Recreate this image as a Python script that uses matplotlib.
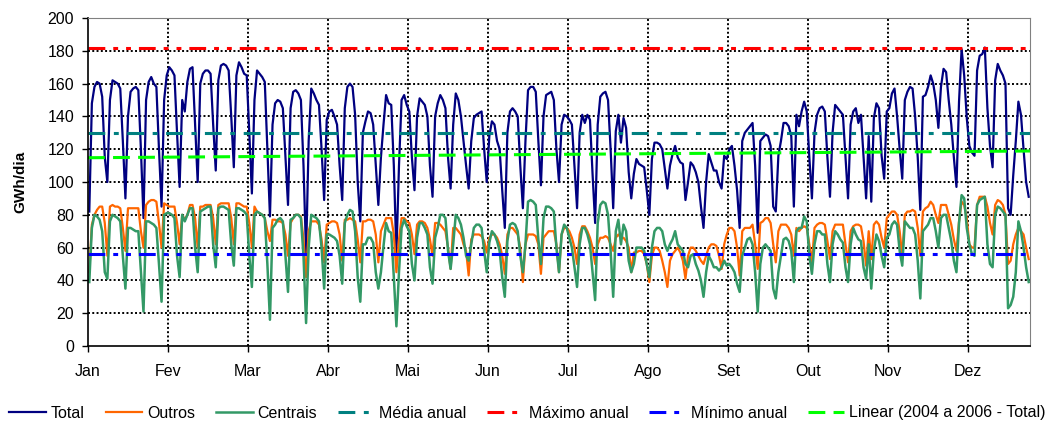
import matplotlib.pyplot as plt

# valores diarios (GWh/dia), 1 Jan .. 31 Dez; cada linha = uma semana (Seg..Dom)
total = [82,
    148, 158, 161, 160, 152, 115, 100,
    150, 162, 161, 160, 157, 125, 90,
    140, 155, 157, 158, 156, 120, 78,
    150, 161, 164, 160, 158, 120, 85,
    150, 165, 170, 168, 165, 130, 97,
    150, 143, 161, 169, 170, 135, 100,
    160, 166, 168, 168, 166, 135, 107,
    162, 171, 172, 171, 168, 140, 109,
    165, 173, 170, 166, 165, 130, 93,
    150, 168, 166, 164, 161, 120, 79,
    135, 148, 150, 149, 145, 115, 86,
    145, 155, 156, 154, 150, 110, 56,
    125, 157, 154, 150, 147, 120, 89,
    138, 143, 144, 140, 135, 110, 89,
    145, 158, 160, 158, 141, 100, 76,
    130, 137, 143, 142, 135, 110, 86,
    115, 135, 153, 148, 147, 110, 56,
    110, 150, 153, 147, 143, 115, 95,
    140, 151, 149, 147, 140, 110, 91,
    140, 148, 153, 150, 145, 115, 96,
    135, 154, 150, 140, 125, 110, 96,
    125, 139, 141, 142, 143, 120, 100,
    128, 137, 135, 125, 120, 95, 72,
    130, 143, 145, 143, 140, 110, 84,
    125, 156, 158, 158, 155, 125, 98,
    140, 153, 154, 155, 150, 120, 100,
    135, 141, 140, 138, 135, 110, 84,
    130, 141, 136, 141, 138, 105, 75,
    135, 152, 154, 155, 150, 120, 84,
    131, 141, 124, 139, 133, 106, 90,
    105, 114, 111, 110, 109, 95, 80,
    114, 124, 124, 123, 120, 108, 96,
    110, 117, 122, 115, 112, 111, 89,
    100, 112, 110, 106, 100, 85, 72,
    100, 117, 112, 107, 107, 100, 96,
    116, 114, 120, 122, 110, 95, 72,
    125, 130, 132, 134, 136, 110, 69,
    125, 127, 129, 128, 122, 85, 82,
    116, 125, 136, 136, 134, 128, 85,
    141, 134, 143, 149, 143, 115, 90,
    130, 141, 145, 146, 143, 115, 91,
    130, 147, 145, 143, 141, 115, 90,
    135, 143, 145, 136, 141, 115, 90,
    128, 88, 139, 148, 145, 116, 102,
    143, 145, 154, 157, 140, 120, 102,
    150, 155, 158, 157, 140, 115, 83,
    152, 153, 158, 165, 160, 150, 133,
    158, 169, 167, 150, 135, 115, 97,
    149, 181, 165, 139, 122, 118, 116,
    168, 177, 178, 182, 145, 122, 109,
    162, 172, 168, 165, 160, 84, 80,
    104, 125, 149, 141, 120, 100, 91]

outros = [45,
    74, 80, 83, 85, 85, 75, 55,
    85, 86, 85, 85, 84, 72, 58,
    84, 84, 84, 84, 84, 70, 60,
    86, 88, 89, 89, 88, 75, 60,
    87, 86, 85, 85, 85, 75, 62,
    80, 77, 80, 86, 86, 78, 60,
    85, 85, 86, 86, 86, 78, 62,
    86, 87, 87, 87, 87, 78, 62,
    87, 87, 86, 85, 85, 75, 60,
    85, 82, 81, 80, 78, 70, 64,
    77, 77, 76, 76, 75, 68, 55,
    75, 78, 80, 80, 79, 65, 42,
    70, 76, 76, 76, 74, 65, 51,
    74, 75, 76, 76, 75, 68, 52,
    77, 77, 78, 77, 76, 65, 51,
    76, 76, 77, 77, 76, 68, 51,
    70, 74, 78, 78, 78, 68, 45,
    65, 78, 78, 76, 75, 68, 56,
    74, 76, 76, 75, 72, 65, 55,
    75, 75, 74, 72, 70, 60, 47,
    72, 72, 70, 68, 62, 58, 43,
    65, 68, 68, 68, 67, 64, 57,
    66, 68, 68, 66, 62, 55, 44,
    68, 72, 72, 70, 68, 60, 39,
    62, 68, 68, 68, 67, 62, 44,
    66, 68, 70, 70, 70, 62, 45,
    68, 72, 72, 70, 66, 60, 50,
    68, 73, 73, 70, 66, 60, 50,
    62, 66, 66, 67, 66, 62, 58,
    66, 68, 66, 66, 64, 60, 45,
    57, 57, 58, 58, 56, 50, 39,
    55, 60, 60, 58, 52, 45, 36,
    52, 56, 58, 60, 57, 52, 41,
    55, 60, 60, 58, 55, 52, 50,
    55, 60, 62, 62, 61, 55, 47,
    62, 68, 72, 72, 70, 60, 43,
    70, 72, 72, 72, 74, 62, 47,
    75, 76, 78, 78, 75, 62, 51,
    70, 74, 74, 74, 72, 68, 55,
    72, 70, 72, 73, 72, 62, 51,
    72, 74, 75, 75, 74, 64, 53,
    70, 74, 74, 74, 74, 62, 51,
    70, 73, 74, 74, 73, 64, 49,
    70, 53, 74, 76, 74, 66, 60,
    78, 80, 82, 82, 80, 70, 55,
    80, 82, 82, 83, 82, 72, 55,
    82, 84, 85, 88, 86, 80, 75,
    86, 86, 86, 80, 74, 65, 58,
    76, 88, 86, 78, 62, 60, 60,
    86, 91, 91, 91, 85, 75, 68,
    86, 89, 88, 86, 80, 50, 52,
    62, 68, 72, 70, 68, 60, 53]

centrais = [39,
    72, 80, 79, 77, 70, 45, 41,
    76, 80, 79, 78, 76, 55, 35,
    72, 72, 71, 70, 70, 45, 21,
    76, 76, 75, 74, 72, 50, 27,
    80, 81, 81, 80, 78, 55, 42,
    80, 76, 80, 84, 84, 60, 45,
    82, 83, 84, 85, 85, 62, 48,
    84, 85, 85, 84, 83, 62, 49,
    84, 84, 83, 82, 80, 55, 36,
    80, 82, 81, 80, 78, 50, 16,
    72, 74, 77, 78, 76, 55, 33,
    77, 78, 80, 80, 78, 55, 14,
    60, 80, 79, 78, 76, 60, 35,
    68, 68, 67, 66, 64, 55, 38,
    75, 80, 83, 82, 70, 42, 27,
    62, 62, 66, 66, 63, 45, 35,
    45, 61, 75, 70, 69, 42, 12,
    45, 72, 77, 73, 70, 50, 40,
    66, 75, 75, 72, 68, 48, 38,
    66, 72, 80, 80, 78, 58, 47,
    62, 80, 78, 74, 66, 55, 52,
    62, 72, 74, 74, 72, 58, 45,
    63, 70, 68, 64, 58, 42, 30,
    64, 74, 75, 74, 70, 55, 45,
    62, 88, 89, 88, 86, 65, 50,
    78, 85, 85, 84, 82, 60, 45,
    68, 74, 72, 66, 60, 48, 36,
    62, 72, 72, 68, 62, 45, 28,
    75, 86, 88, 87, 80, 58, 30,
    70, 77, 62, 74, 70, 52, 45,
    50, 60, 60, 60, 58, 50, 42,
    60, 70, 72, 72, 70, 62, 58,
    62, 65, 70, 62, 60, 58, 50,
    48, 55, 56, 50, 46, 40, 30,
    45, 55, 52, 48, 48, 46, 48,
    52, 49, 50, 48, 45, 38, 33,
    55, 60, 65, 66, 62, 45, 21,
    50, 60, 62, 60, 58, 35, 29,
    45, 55, 65, 66, 64, 58, 39,
    70, 72, 72, 79, 76, 55, 44,
    62, 70, 70, 68, 68, 50, 39,
    62, 70, 68, 65, 63, 48, 39,
    62, 72, 68, 65, 64, 48, 41,
    62, 35, 58, 68, 64, 55, 48,
    66, 68, 74, 76, 74, 58, 49,
    76, 74, 72, 72, 68, 52, 29,
    70, 72, 74, 78, 78, 70, 60,
    78, 80, 80, 72, 64, 52, 45,
    75, 92, 90, 72, 62, 56, 55,
    86, 89, 90, 91, 62, 50, 48,
    80, 85, 84, 82, 80, 23, 25,
    30, 45, 76, 70, 60, 48, 39]

media_anual = 130
maximo_anual = 182
minimo_anual = 56
linear_ini, linear_fim = 114.8, 118.9  # tendencia 2004 a 2006

meses = ["Jan", "Fev", "Mar", "Abr", "Mai", "Jun",
         "Jul", "Ago", "Set", "Out", "Nov", "Dez"]

assert len(total) == len(outros) == len(centrais) == 365

plt.rcParams['font.family'] = ['Liberation Sans', 'DejaVu Sans']

dias = list(range(len(total)))
x0, x1 = -0.5, len(total) - 0.5

fig = plt.figure(figsize=(10.55, 4.28), dpi=100)
ax = fig.add_axes([88 / 1055, 1 - 346 / 428, 942 / 1055, 328 / 428])

ax.plot(dias, total, color="#000080", lw=1.6, label="Total")
ax.plot(dias, outros, color="#FF6600", lw=1.6, label="Outros")
ax.plot(dias, centrais, color="#339966", lw=1.8, label="Centrais")

ls_media = (0, (5.5, 2.8, 1.6, 2.8))
ls_ext = (0, (5.5, 2.6, 1.6, 2.6, 1.6, 2.6))
ls_lin = (0, (5.5, 2.7))
ax.plot([x0, x1], [media_anual] * 2, color="#008080", lw=2.2, ls=ls_media, label="Média anual")
ax.plot([x0, x1], [maximo_anual] * 2, color="#FF0000", lw=2.2, ls=ls_ext, label="Máximo anual")
ax.plot([x0, x1], [minimo_anual] * 2, color="#0000FF", lw=2.2, ls=ls_ext, label="Mínimo anual")
ax.plot([x0, x1], [linear_ini, linear_fim], color="#00FF00", lw=2.2, ls=ls_lin,
        label="Linear (2004 a 2006 - Total)")

ax.set_xlim(x0, x1)
ax.set_ylim(0, 200)
ax.set_yticks(range(0, 201, 20))
pos = [x0 + 31 * i for i in range(len(meses))]
ax.set_xticks(pos)
ax.set_xticklabels(meses)
ax.tick_params(labelsize=11.5, length=4, width=1, direction="out")
ax.tick_params(axis="y", pad=6)
ax.tick_params(axis="x", pad=9)

for y in range(20, 201, 20):
    ax.axhline(y, color="black", lw=1.4, ls=(0, (1, 1.2)), zorder=0.5)
for p in pos[1:]:
    ax.axvline(p, color="black", lw=1.4, ls=(0, (1, 1.2)), zorder=0.5)

for s in ["top", "right"]:
    ax.spines[s].set_color("#808080")
ax.spines["left"].set_linewidth(1.2)
ax.spines["bottom"].set_linewidth(1.2)

fig.text(20 / 1055, 0.575, "GWh/dia", rotation=90, fontweight="bold",
         fontsize=11, ha="center", va="center")

handles, labels = ax.get_legend_handles_labels()
fig.legend(handles, labels, loc="center", bbox_to_anchor=(0.5, 1 - 413 / 428),
           ncol=7, frameon=False, fontsize=11.5, handlelength=2.3,
           handletextpad=0.3, columnspacing=1.3)

fig.savefig("out.png", dpi=100)
plt.close(fig)
